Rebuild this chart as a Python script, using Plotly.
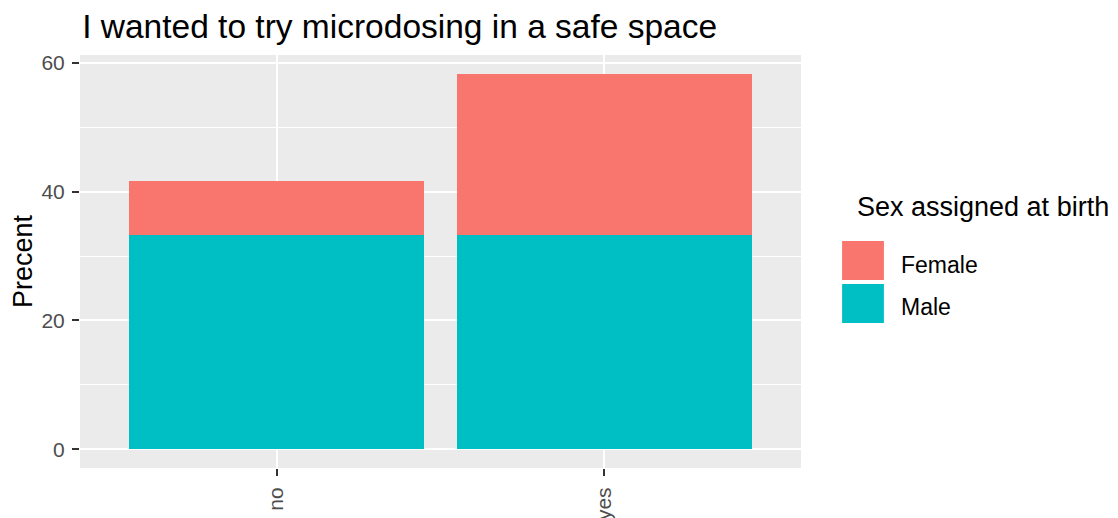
import plotly.graph_objects as go

# Data: share of respondents (%) per answer, stacked by sex
answers = ["no", "yes"]
male_pct = [33.33, 33.33]
female_pct = [8.33, 25.0]
legend_names = ["Female", "Male"]
legend_colors = ["#F8766D", "#00BFC4"]

fig = go.Figure()
fig.add_trace(go.Bar(x=answers, y=male_pct, name="Male", marker_color="#00BFC4",
                     marker_line_width=0, width=0.9, showlegend=False))
fig.add_trace(go.Bar(x=answers, y=female_pct, name="Female", marker_color="#F8766D",
                     marker_line_width=0, width=0.9, showlegend=False))

# ggplot-style legend drawn by hand (big square keys)
fig.add_annotation(text="Sex assigned at birth", xref="paper", yref="paper",
                   x=1.075, y=0.632, xanchor="left", yanchor="middle", showarrow=False,
                   font=dict(size=27, color="black"))
key_y = [(0.4552, 0.5496), (0.3511, 0.4455)]
label_y = [0.4915, 0.3898]
for nm, col, (y0, y1), ly in zip(legend_names, legend_colors, key_y, label_y):
    fig.add_shape(type="rect", xref="paper", yref="paper",
                  x0=1.057, x1=1.115, y0=y0, y1=y1,
                  fillcolor=col, line_width=0)
    fig.add_annotation(text=nm, xref="paper", yref="paper", x=1.136, y=ly,
                       xanchor="left", yanchor="middle", showarrow=False,
                       font=dict(size=23, color="black"))

fig.update_layout(
    barmode="stack",
    width=1118, height=518,
    margin=dict(l=72, r=325, t=47, b=58),
    paper_bgcolor="white",
    plot_bgcolor="#EBEBEB",
    font=dict(family="Liberation Sans, Arial, sans-serif"),
    title=dict(text="I wanted to try microdosing in a safe space", x=0.003, xref="paper",
               xanchor="left", y=0.965, yanchor="middle",
               font=dict(size=33.5, color="black")),
    bargap=0.1,
)
fig.update_xaxes(range=[-0.6, 1.6], showgrid=True, gridcolor="white", gridwidth=2,
                 ticks="outside", ticklen=7, tickcolor="#333333", tickwidth=1.5,
                 tickangle=-90, tickfont=dict(size=21, color="#4D4D4D"),
                 ticklabelstandoff=3, automargin=False,
                 zeroline=False, showline=False)
fig.update_yaxes(range=[-2.92, 61.25], tickvals=[0, 20, 40, 60], showgrid=True,
                 gridcolor="white", gridwidth=2,
                 minor=dict(tickvals=[10, 30, 50], showgrid=True, gridcolor="white", gridwidth=1),
                 ticks="outside", ticklen=7, tickcolor="#333333", tickwidth=1.5,
                 tickfont=dict(size=21, color="#4D4D4D"), ticklabelstandoff=3,
                 title=dict(text="Precent", font=dict(size=27, color="black"), standoff=6),
                 automargin=False, zeroline=False, showline=False)

fig.write_html("out.html")
